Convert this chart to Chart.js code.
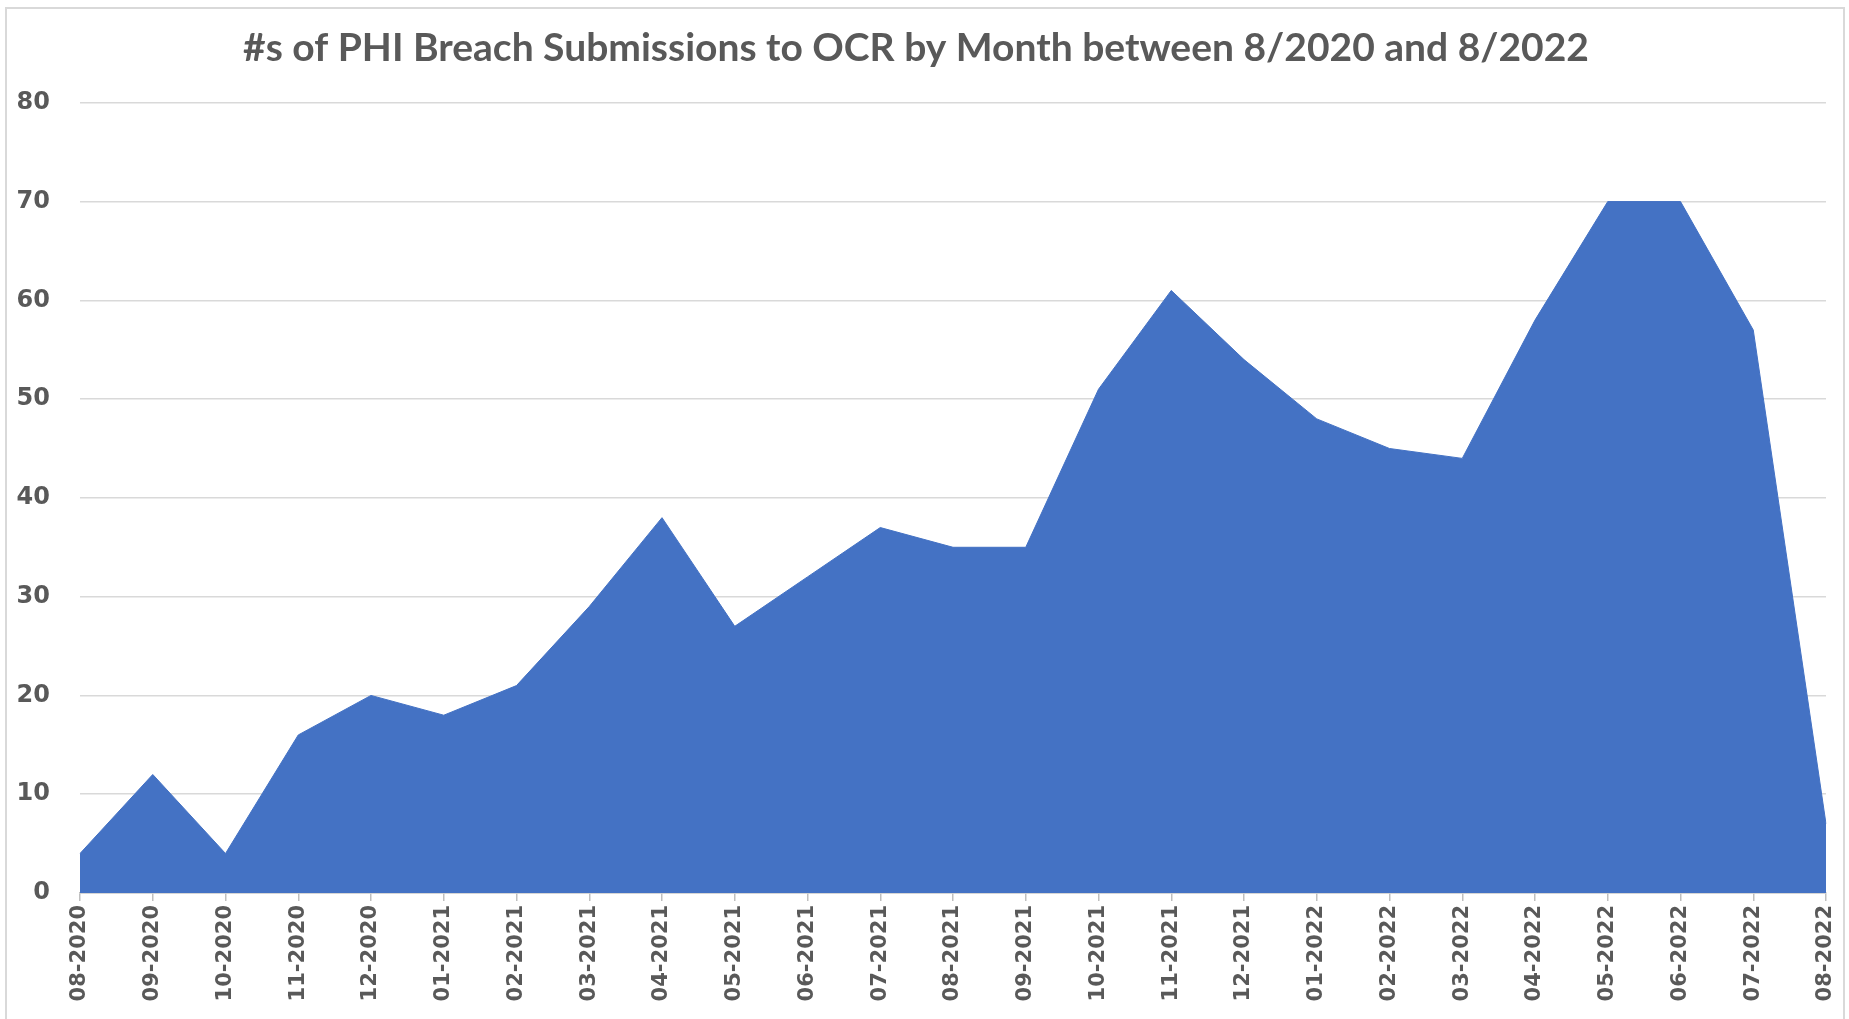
<!DOCTYPE html>
<html>
<head>
<meta charset="utf-8">
<title>PHI Breach Submissions</title>
<script src="https://cdn.jsdelivr.net/npm/chart.js@4"></script>
<style>
  html, body { margin: 0; padding: 0; background: #ffffff; overflow: hidden; }
  .frame { position: absolute; left: 5px; top: 7px; width: 1840px; height: 1100px; border: 2px solid #d9d9d9; box-sizing: border-box; }
  .wrap { position: absolute; left: 0; top: 0; width: 1849px; height: 1019px; }
</style>
</head>
<body>
<div class="frame"></div>
<div class="wrap"><canvas id="chart"></canvas></div>

<script>
  // months on the x axis
  var months = ['08-2020', '09-2020', '10-2020', '11-2020', '12-2020',
                '01-2021', '02-2021', '03-2021', '04-2021', '05-2021', '06-2021', '07-2021',
                '08-2021', '09-2021', '10-2021', '11-2021', '12-2021',
                '01-2022', '02-2022', '03-2022', '04-2022', '05-2022', '06-2022', '07-2022', '08-2022'];

  // number of submissions per month
  var submissions = [4, 12, 4, 16, 20, 18, 21, 29, 38, 27, 32, 37,
                     35, 35, 51, 61, 54, 48, 45, 44, 58, 70, 70, 57, 7];

  var yMin = 0;
  var yMax = 80;
  var yStep = 10;

  var grey = '#595959';

  var ctx = document.getElementById('chart');
  var chart = new Chart(ctx, {
    type: 'line',
    data: {
      labels: months,
      datasets: [{
        label: 'Submissions',
        data: submissions,
        backgroundColor: '#4472c4',
        borderColor: '#4472c4',
        borderWidth: 1,
        pointRadius: 0,
        tension: 0,
        fill: 'origin'
      }]
    },
    options: {
      responsive: true,
      maintainAspectRatio: false,
      animation: false,
      layout: { padding: { top: 0, right: 23, bottom: 0, left: 6 } },
      plugins: {
        legend: { display: false },
        tooltip: { enabled: false },
        title: {
          display: true,
          text: '#s of PHI Breach Submissions to OCR by Month between 8/2020 and 8/2022',
          color: grey,
          font: { family: 'Lato', size: 39, weight: 'bold', lineHeight: 1.2 },
          padding: { top: 25, bottom: 31 }
        }
      },
      scales: {
        x: {
          grid: { display: true, drawOnChartArea: false, drawTicks: true, tickLength: 8, color: '#bfbfbf', lineWidth: 1.5 },
          border: { display: true, color: '#bfbfbf', width: 1.5 },
          ticks: {
            autoSkip: false,
            minRotation: 90,
            maxRotation: 90,
            padding: 4,
            color: grey,
            font: { family: 'DejaVu Sans', size: 21, weight: 'bold' }
          },
          afterFit: function (scale) {
            scale.height = 126;
            scale.paddingLeft = 0;
            scale.paddingRight = 0;
          }
        },
        y: {
          min: yMin,
          max: yMax,
          grid: { color: '#d9d9d9', lineWidth: 1.5, drawTicks: false },
          border: { display: false },
          ticks: {
            stepSize: yStep,
            padding: 30,
            color: grey,
            font: { family: 'DejaVu Sans', size: 24, weight: 'bold' }
          },
          afterFit: function (scale) { scale.width = 74; }
        }
      }
    }
  });
</script>
</body>
</html>
